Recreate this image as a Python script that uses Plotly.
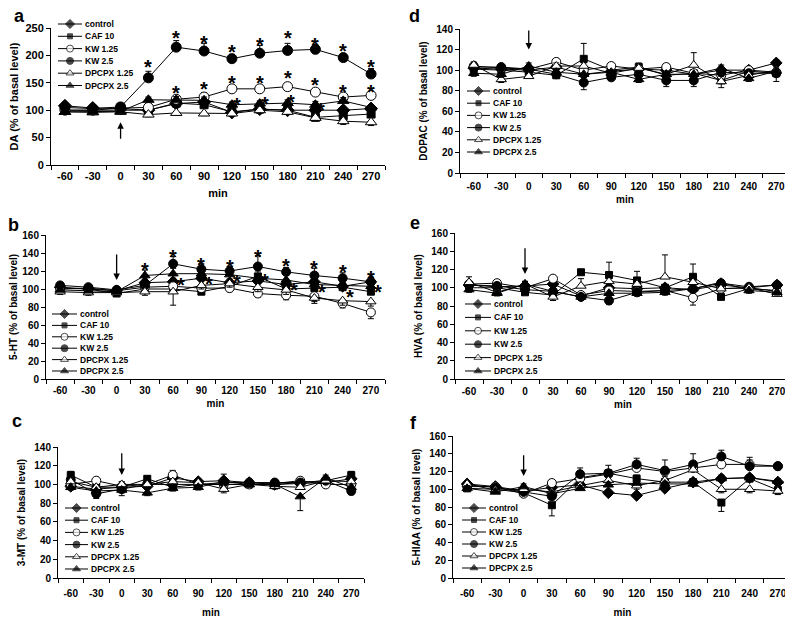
import plotly.graph_objects as go

# the page adds an 8 px body margin, so the figure is drawn 8 px smaller and
# all pixel positions below (measured on the 793 x 621 picture) are shifted by it
PAGE_W, PAGE_H, PAD = 793, 621, 8
W, H = PAGE_W - PAD, PAGE_H - PAD

MINUTES = [-60, -30, 0, 30, 60, 90, 120, 150, 180, 210, 240, 270]
GROUPS = ["control", "CAF 10", "KW 1.25", "KW 2.5", "DPCPX 1.25", "DPCPX 2.5"]

# mean values (% of basal level), rows follow GROUPS
DA = [
    [108, 104, 103, 100, 112, 115, 96, 102, 100, 100, 100, 103],
    [100, 100, 100, 100, 113, 110, 97, 102, 100, 87, 90, 93],
    [100, 100, 104, 105, 120, 124, 139, 139, 143, 133, 124, 127],
    [105, 103, 106, 159, 215, 208, 194, 204, 209, 211, 196, 166],
    [97, 96, 97, 92, 95, 94, 94, 100, 97, 86, 80, 78],
    [97, 97, 98, 119, 119, 118, 110, 112, 113, 110, 117, 105],
]
HT = [
    [102, 100, 98, 107, 108, 112, 107, 109, 105, 108, 103, 108],
    [101, 100, 95, 100, 100, 97, 103, 114, 100, 101, 102, 97],
    [100, 101, 98, 102, 103, 101, 101, 95, 93, 92, 84, 74],
    [104, 102, 99, 104, 128, 122, 120, 125, 119, 115, 112, 108],
    [97, 96, 96, 97, 97, 104, 106, 102, 99, 90, 87, 86],
    [99, 98, 97, 115, 117, 117, 116, 112, 110, 105, 104, 103],
]
MT = [
    [98, 95, 97, 98, 107, 103, 104, 102, 100, 101, 102, 106],
    [110, 97, 97, 106, 97, 100, 100, 100, 100, 102, 104, 110],
    [100, 104, 98, 100, 110, 100, 100, 100, 101, 104, 100, 100],
    [105, 90, 95, 100, 100, 100, 102, 102, 102, 102, 104, 93],
    [103, 97, 100, 100, 103, 102, 95, 100, 98, 97, 104, 103],
    [97, 93, 94, 91, 96, 97, 103, 100, 100, 87, 107, 97],
]
DOPAC = [
    [102, 101, 100, 103, 96, 99, 101, 100, 96, 100, 100, 107],
    [101, 100, 98, 95, 111, 100, 103, 95, 97, 90, 99, 97],
    [104, 102, 101, 108, 100, 104, 101, 103, 97, 95, 100, 98],
    [103, 103, 101, 96, 88, 93, 96, 90, 90, 98, 97, 97],
    [105, 91, 94, 104, 104, 97, 102, 96, 105, 89, 95, 100],
    [97, 96, 104, 98, 96, 98, 91, 96, 96, 102, 92, 99],
]
HVA = [
    [103, 101, 102, 104, 91, 100, 99, 100, 98, 103, 100, 103],
    [100, 100, 95, 92, 117, 114, 108, 100, 112, 90, 99, 97],
    [104, 105, 100, 110, 92, 97, 96, 97, 89, 99, 100, 96],
    [103, 102, 98, 96, 90, 86, 95, 97, 99, 105, 101, 103],
    [106, 95, 104, 90, 102, 107, 104, 112, 106, 99, 100, 93],
    [98, 94, 104, 96, 90, 94, 94, 95, 99, 106, 97, 95],
]
HIAA = [
    [106, 103, 98, 102, 105, 96, 93, 101, 108, 112, 113, 108],
    [101, 100, 96, 82, 113, 118, 112, 108, 108, 85, 112, 99],
    [103, 103, 95, 107, 112, 117, 124, 120, 124, 128, 128, 126],
    [105, 102, 97, 92, 117, 118, 128, 121, 128, 137, 126, 126],
    [106, 99, 100, 97, 104, 110, 104, 110, 122, 100, 100, 98],
    [101, 97, 103, 95, 101, 105, 107, 106, 106, 112, 113, 109],
]

# SEM, negative value = error bar drawn downward
DA_SEM = [
    [4, 3, 3, 3, 5, 5, 4, 4, 4, 4, 4, 4],
    [3, 3, 3, 3, -6, -5, -4, -4, -4, -5, -6, -6],
    [3, 3, 3, 5, 6, 8, 6, 6, 6, 6, 5, 5],
    [5, 4, 4, 12, 12, 14, 8, 14, 13, 8, 6, 10],
    [-3, -3, -3, -4, -4, -4, -4, -4, -4, -5, -6, -6],
    [3, 3, 3, 5, 6, 6, 5, 5, 6, 6, 6, 5],
]
HT_SEM = [
    [3, 3, 3, 4, 4, 4, 4, 4, 4, 4, 4, 4],
    [3, 3, 3, 3, 4, 3, 4, 6, 5, 5, 5, 5],
    [-3, -3, -3, -4, -5, -4, -4, -4, -5, -6, -5, -7],
    [3, 3, 3, 4, 8, 6, 5, 12, 5, 8, 6, 5],
    [-3, -3, -3, -4, -15, -4, -4, -5, -5, -6, -5, -5],
    [3, 3, 3, 6, 6, 5, 5, 5, 5, 5, 5, 5],
]
MT_SEM = [
    [3, 3, 3, 3, 4, 3, 3, 3, 3, 3, 3, 3],
    [4, 3, 3, 3, 4, 4, 4, 3, 3, 3, 3, 4],
    [3, 3, 3, 3, 5, 3, 3, 3, 3, 3, 3, 3],
    [-3, -5, -4, -3, -3, -3, -3, -3, -3, -3, -3, -4],
    [3, 3, 3, 3, 3, 3, -4, 3, 3, 3, 3, 3],
    [-3, -4, -6, -3, -3, -3, 8, -3, -5, -15, 3, -4],
]
DOPAC_SEM = [
    [3, 3, 3, 3, 3, 3, 3, 3, 3, 3, 3, 3],
    [3, 3, 3, 3, 15, 3, 4, 3, 3, 3, 3, 3],
    [3, 3, 3, 3, 3, 3, 3, 3, 3, 3, 3, 3],
    [-3, -3, -3, -3, -7, -3, -3, -6, -6, -4, -3, -8],
    [3, -3, 3, 3, 3, 3, 3, 3, 12, -6, 3, 3],
    [-3, -3, 3, -3, -3, -3, -3, -3, -3, 3, -3, -3],
]
HVA_SEM = [
    [3, 3, 3, 3, 3, 3, 3, 3, 3, 3, 3, 3],
    [3, 3, 3, 3, 3, 14, 10, 3, 14, 3, 3, 3],
    [3, 3, 3, 3, 3, 3, 3, 3, -8, 3, 3, 3],
    [-3, -3, -3, -3, -4, -4, -3, -3, -3, -3, -3, -3],
    [6, 3, 3, -4, 8, 5, 5, 24, 8, 3, 3, 3],
    [-3, -3, 3, -3, -3, -3, -3, -3, -3, 3, -3, -3],
]
HIAA_SEM = [
    [3, 3, 3, 3, 3, 3, 3, 3, 3, 3, 3, 3],
    [3, 3, 3, -12, 4, 4, 4, 4, 4, -10, 4, 4],
    [3, 3, 3, 4, 4, 4, 4, 4, 5, 5, 5, 4],
    [3, 3, 3, 3, 7, 9, 7, 12, 12, 7, 10, 4],
    [3, 3, 3, -4, 4, 4, -4, 4, 6, -4, -4, -4],
    [3, 3, 3, 3, 3, 3, 3, 3, 3, 4, 3, 3],
]

# significance marks (x in min, y in % of basal level)
DA_STAR_X = [30, 60, 90, 120, 150, 180, 210, 240, 270,
             60, 90, 120, 150, 180, 210, 240, 270,
             126, 156, 184, 216]
DA_STAR_Y = [188, 240, 231, 215, 228, 240, 228, 217, 188,
             140, 148, 158, 158, 167, 155, 142, 142,
             118, 120, 125, 110]
HT_STAR_X = [30, 60, 90, 120, 150, 180, 210, 240, 270,
             68, 98, 128, 158, 188, 218, 248, 278]
HT_STAR_Y = [127, 141, 132, 130, 141, 131, 129, 125, 118,
             110, 111, 113, 114, 104, 102, 97, 102]

BLACK = "black"
FONT = "Liberation Sans, Arial, sans-serif"

STYLE = [
    dict(symbol="diamond", color=BLACK, size=9),
    dict(symbol="square", color=BLACK, size=7),
    dict(symbol="circle", color="white", size=9),
    dict(symbol="circle", color=BLACK, size=9),
    dict(symbol="triangle-up", color="white", size=9),
    dict(symbol="triangle-up", color=BLACK, size=9),
]

# pixel boxes: plot (x0, x1, ytop, ybottom), legend (x0, x1, first row y, row step)
PANELS = [
    dict(letter="a", title="DA (% of basal level)", mean=DA, sem=DA_SEM, ymax=250, dtick=50,
         box=(51, 385, 28, 165), leg=(58, 82, 24, 12.3), lpos=(19, 16), arrow=(45, 78),
         stars=(DA_STAR_X, DA_STAR_Y), tfont=11, stand=(1, 8)),
    dict(letter="b", title="5-HT (% of basal level)", mean=HT, sem=HT_SEM, ymax=160, dtick=20,
         box=(46, 385, 235, 379), leg=(52, 77, 314, 11.4), lpos=(13, 225), arrow=(140, 110),
         stars=(HT_STAR_X, HT_STAR_Y), tfont=10, stand=(2, 4)),
    dict(letter="c", title="3-MT (% of basal level)", mean=MT, sem=MT_SEM, ymax=140, dtick=20,
         box=(58, 364, 447, 578), leg=(65, 88, 508, 12.2), lpos=(17, 421), arrow=(135, 110),
         stars=None, tfont=10, stand=(6, 10)),
    dict(letter="d", title="DOPAC (% of basal level)", mean=DOPAC, sem=DOPAC_SEM, ymax=140, dtick=20,
         box=(460, 790, 29, 173), leg=(467, 490, 91, 12.2), lpos=(414, 16), arrow=(140, 120),
         stars=None, tfont=10, stand=(4, 4)),
    dict(letter="e", title="HVA (% of basal level)", mean=HVA, sem=HVA_SEM, ymax=160, dtick=20,
         box=(455, 791, 233, 379), leg=(465, 491, 304, 13.4), lpos=(415, 223), arrow=(145, 115),
         stars=None, tfont=10, stand=(3, 4)),
    dict(letter="f", title="5-HIAA (% of basal level)", mean=HIAA, sem=HIAA_SEM, ymax=160, dtick=20,
         box=(453, 792, 436, 578), leg=(462, 486, 508, 12.0), lpos=(413, 423), arrow=(140, 115),
         stars=None, tfont=10, stand=(6, 10)),
]


def px_x(x):
    return (x - PAD) / W


def px_y(y):
    return 1 - (y - PAD) / H


fig = go.Figure()
layout = {}
annotations = []

for p_i, p in enumerate(PANELS):
    n = p_i + 1
    ln = p_i + 7
    xa, ya = ("x" if n == 1 else f"x{n}"), ("y" if n == 1 else f"y{n}")
    lxa, lya = f"x{ln}", f"y{ln}"
    x0, x1, yt, yb = p["box"]
    bold = dict(family=FONT, size=p["tfont"], color=BLACK, weight="bold")

    layout["xaxis" if n == 1 else f"xaxis{n}"] = dict(
        domain=[px_x(x0), min(px_x(x1), 1)], anchor=ya, range=[-75, 285], automargin=False,
        showline=True, linecolor=BLACK, linewidth=1, showgrid=False, zeroline=False,
        tickmode="array", tickvals=MINUTES, ticktext=[str(m) for m in MINUTES],
        ticks="", ticklabelstandoff=p["stand"][0], tickfont=bold,
        minor=dict(tickmode="array", tickvals=[m + 15 for m in [-90] + MINUTES],
                   ticks="outside", ticklen=4, tickcolor=BLACK, showgrid=False),
        title=dict(text="min", font=bold, standoff=p["stand"][1]),
    )
    layout["yaxis" if n == 1 else f"yaxis{n}"] = dict(
        domain=[px_y(yb), px_y(yt)], anchor=xa, range=[0, p["ymax"]], dtick=p["dtick"],
        automargin=False,
        showline=True, linecolor=BLACK, linewidth=1, showgrid=False, zeroline=False,
        ticks="outside", ticklen=4, tickcolor=BLACK, tickfont=bold,
        title=dict(text=p["title"], font=bold, standoff=6),
    )

    for g_i, name in enumerate(GROUPS):
        st = STYLE[g_i]
        sem = p["sem"][g_i]
        fig.add_trace(go.Scatter(
            x=MINUTES, y=p["mean"][g_i], mode="lines+markers", name=name,
            xaxis=xa, yaxis=ya, showlegend=False, cliponaxis=False,
            line=dict(color=BLACK, width=1),
            marker=dict(symbol=st["symbol"], size=st["size"] + (1 if n == 1 else 0),
                        color=st["color"], line=dict(color=BLACK, width=1)),
            error_y=dict(type="data", symmetric=False,
                         array=[max(e, 0) for e in sem],
                         arrayminus=[max(-e, 0) for e in sem],
                         color=BLACK, thickness=1, width=3),
        ))

    # legend keys drawn on a small hidden axis pair
    lx0, lx1, ly0, lstep = p["leg"]
    layout[f"xaxis{ln}"] = dict(domain=[px_x(lx0), px_x(lx1)], anchor=lya, range=[0, 1],
                                visible=False, fixedrange=True, automargin=False)
    layout[f"yaxis{ln}"] = dict(domain=[px_y(ly0 + 5.5 * lstep), px_y(ly0 - lstep / 2)],
                                anchor=lxa, range=[5.5, -0.5], visible=False,
                                fixedrange=True, automargin=False)
    for g_i, name in enumerate(GROUPS):
        st = STYLE[g_i]
        fig.add_trace(go.Scatter(
            x=[0, 0.5, 1], y=[g_i] * 3, mode="lines+markers", xaxis=lxa, yaxis=lya,
            showlegend=False, hoverinfo="skip", cliponaxis=False,
            line=dict(color=BLACK, width=1),
            marker=dict(symbol=st["symbol"], size=[0, st["size"] - 2, 0], color=st["color"],
                        line=dict(color=BLACK, width=[0, 1, 0])),
        ))
        annotations.append(dict(
            xref=lxa, yref=lya, x=1, y=g_i, text=name, showarrow=False,
            xanchor="left", yanchor="middle", xshift=1,
            font=dict(family=FONT, size=8.5, color=BLACK, weight="bold"),
        ))

    # treatment arrow at time 0
    a_from, a_to = p["arrow"]
    annotations.append(dict(
        xref=xa, yref=ya, axref=xa, ayref=ya, x=0, y=a_to, ax=0, ay=a_from, text="",
        showarrow=True, arrowhead=2, arrowsize=1, arrowwidth=1.3, arrowcolor=BLACK,
    ))

    if p["stars"]:
        for sx, sy in zip(*p["stars"]):
            annotations.append(dict(
                xref=xa, yref=ya, x=sx, y=sy, text="*", showarrow=False,
                yshift=-5, font=dict(family=FONT, size=20, color=BLACK, weight="bold"),
            ))

    annotations.append(dict(
        xref="paper", yref="paper", x=px_x(p["lpos"][0]), y=px_y(p["lpos"][1]),
        text=p["letter"], showarrow=False, xanchor="center", yanchor="middle",
        font=dict(family=FONT, size=18, color=BLACK, weight="bold"),
    ))

fig.update_layout(
    **layout,
    annotations=annotations,
    width=W, height=H,
    margin=dict(l=0, r=0, t=0, b=0),
    paper_bgcolor="white", plot_bgcolor="white",
    font=dict(family=FONT, color=BLACK),
    showlegend=False,
)

fig.write_html("out.html")
